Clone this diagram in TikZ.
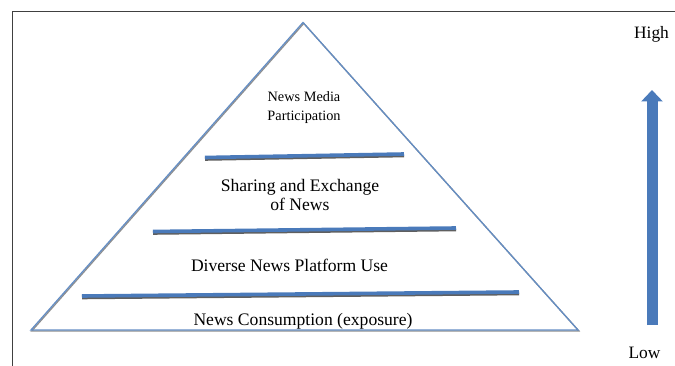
\documentclass[tikz,border=0pt]{standalone}
\usepackage{fontspec}
\setmainfont{Liberation Serif}
\usepackage{xcolor}
\usetikzlibrary{arrows.meta}
\definecolor{levelblue}{RGB}{74,122,186}
\definecolor{shadowgray}{RGB}{95,95,95}
\definecolor{framegray}{RGB}{64,64,64}

\begin{document}
\begin{tikzpicture}[x=1pt,y=-1pt,
  level/.style={font=\fontsize{17.6}{19.5}\selectfont, align=center, inner sep=0pt, anchor=base},
  toplevel/.style={font=\fontsize{14.3}{18.5}\selectfont, align=center, inner sep=0pt, anchor=base},
  scale label/.style={font=\fontsize{17.4}{20}\selectfont, inner sep=0pt, anchor=base},
  divider/.style={line width=3.6pt, levelblue},
  divider shadow/.style={line width=3.6pt, shadowgray},
  side/.style={line width=1.3pt, levelblue!85, line join=miter},
  side shadow/.style={line width=1.3pt, shadowgray!70},
  rise/.style={line width=11pt, levelblue, -{Triangle[width=21pt,length=11.5pt]}}]
\useasboundingbox (0,0) rectangle (675,366);
% frame
\draw[framegray, line width=0.9pt] (675,11) -- (12,11) -- (12,366);
% pyramid
\coordinate (apex) at (303,22.5);
\coordinate (baseL) at (31,330);
\coordinate (baseR) at (578,330);
\draw[side shadow] ([shift={(0.8,0.9)}]apex) -- ([shift={(0.8,0.9)}]baseR) -- ([shift={(0.8,0.9)}]baseL) -- cycle;
\draw[side] (apex) -- (baseR) -- (baseL) -- cycle;
% dividers
\coordinate (d1L) at (205,157.5); \coordinate (d1R) at (404,154);
\coordinate (d2L) at (153,231.5); \coordinate (d2R) at (456,228);
\coordinate (d3L) at (82,296); \coordinate (d3R) at (519,292);
\foreach \l/\r in {d1L/d1R, d2L/d2R, d3L/d3R}{
  \draw[divider shadow] ([yshift=-1.5pt]\l) -- ([yshift=-1.5pt]\r);
  \draw[divider] (\l) -- (\r);
}
% levels (base = last line)
\node[toplevel] (participation) at (304,120.5) {News Media\\Participation};
\node[level] (sharing) at (300,211) {Sharing and Exchange\\of News};
\node[level] (platform) at (289.5,271.5) {Diverse News Platform Use};
\node[level] (consumption) at (303,325) {News Consumption (exposure)};
% scale
\node[scale label] (high) at (651.5,39) {High};
\node[scale label] (low) at (644.5,358) {Low};
\coordinate (riseLow) at (652,325);
\coordinate (riseHigh) at (652,90);
\draw[rise] (riseLow) -- (riseHigh);
\end{tikzpicture}
\end{document}
